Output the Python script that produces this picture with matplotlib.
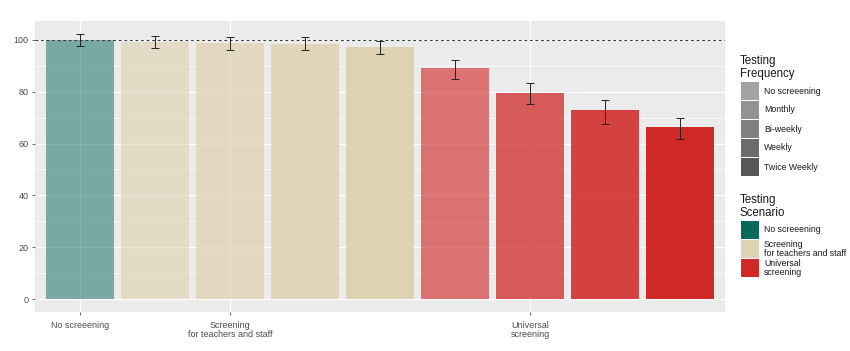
import numpy as np
import matplotlib
matplotlib.use("Agg")
import matplotlib.pyplot as plt
from matplotlib.patches import Rectangle

plt.rcParams['font.family'] = ['Liberation Sans', 'DejaVu Sans']

# data
scenario = ['No screeening'] + ['Screening\nfor teachers and staff'] * 4 + ['Universal\nscreening'] * 4
frequency = ['No screeening', 'Monthly', 'Bi-weekly', 'Weekly', 'Twice Weekly',
             'Monthly', 'Bi-weekly', 'Weekly', 'Twice Weekly']
value = [100.0, 99.3, 99.0, 98.6, 97.3, 89.3, 79.7, 72.8, 66.4]
err_lo = [97.7, 97.0, 96.1, 96.1, 94.5, 85.0, 75.2, 67.5, 61.7]
err_hi = [102.2, 101.7, 101.0, 101.0, 99.6, 92.2, 83.3, 77.0, 69.8]

scen_names = ['No screeening', 'Screening\nfor teachers and staff', 'Universal\nscreening']
freq_names = ['No screeening', 'Monthly', 'Bi-weekly', 'Weekly', 'Twice Weekly']
tick_pos = [1, 3, 7]

scen_col = {'No screeening': '#07695A',
            'Screening\nfor teachers and staff': '#DFD2B1',
            'Universal\nscreening': '#D02A27'}
freq_alpha = {'No screeening': 0.5, 'Monthly': 0.625, 'Bi-weekly': 0.75,
              'Weekly': 0.875, 'Twice Weekly': 1.0}
freq_key = ['#A3A3A3', '#939393', '#808080', '#6B6B6B', '#575757']

W, H = 850, 351
def fx(x):
    return x / W
def fy(y):
    return 1 - y / H

fig = plt.figure(figsize=(W / 100, H / 100), dpi=100)
ax = fig.add_axes([fx(35), fy(312), (725 - 35) / W, (312 - 21) / H])
ax.set_facecolor('#EBEBEB')
for s in ax.spines.values():
    s.set_visible(False)

x = np.arange(1, len(value) + 1)
ax.set_xlim(0.4, len(value) + 0.6)
ax.set_ylim(-5.0, 107.3)

# grid
for yv in range(10, 101, 20):
    ax.axhline(yv, color='white', lw=0.5, zorder=0)
for yv in range(0, 101, 20):
    ax.axhline(yv, color='white', lw=1.0, zorder=0)
for xv in tick_pos:
    ax.axvline(xv, color='white', lw=1.0, zorder=0)

for xi, s, f, v in zip(x, scenario, frequency, value):
    ax.bar(xi, v, width=0.9, color=scen_col[s], alpha=freq_alpha[f], lw=0, zorder=1)

ax.axhline(100, color='#3A3A3A', lw=0.8, ls=(0, (2.5, 2.5)), zorder=2)

lo = np.array(value) - np.array(err_lo)
hi = np.array(err_hi) - np.array(value)
ax.errorbar(x, value, yerr=[lo, hi], fmt='none', ecolor='#222222', elinewidth=0.7,
            capsize=2.9, capthick=0.7, zorder=3)

ax.set_yticks(range(0, 101, 20))
ax.set_xticks(tick_pos)
ax.set_xticklabels(scen_names)
ax.tick_params(axis='both', colors='#4D4D4D', labelcolor='#4D4D4D', labelsize=6.5,
               length=2.5, width=0.6)
ax.tick_params(axis='x', pad=4)
ax.tick_params(axis='y', pad=2)
for t in ax.get_xticklabels():
    t.set_linespacing(1.0)

# legends
fig.text(fx(740), fy(55), 'Testing\nFrequency', fontsize=8.3, color='#1A1A1A',
         va='top', ha='left', linespacing=1.1)
for i, (name, c) in enumerate(zip(freq_names, freq_key)):
    top = 82 + i * 19
    fig.patches.append(Rectangle((fx(741), fy(top + 18)), 18 / W, 18 / H,
                                 transform=fig.transFigure, color=c, lw=0))
    fig.text(fx(764), fy(top + 9), name, fontsize=6.3, color='#1A1A1A', va='center', ha='left')

fig.text(fx(740), fy(194), 'Testing\nScenario', fontsize=8.3, color='#1A1A1A',
         va='top', ha='left', linespacing=1.1)
for i, name in enumerate(scen_names):
    top = 221 + i * 19
    fig.patches.append(Rectangle((fx(741), fy(top + 18)), 18 / W, 18 / H,
                                 transform=fig.transFigure, color=scen_col[name], lw=0))
    fig.text(fx(764), fy(top + 9), name, fontsize=6.3, color='#1A1A1A', va='center',
             ha='left', linespacing=0.95)

fig.savefig('out.png', dpi=100)
